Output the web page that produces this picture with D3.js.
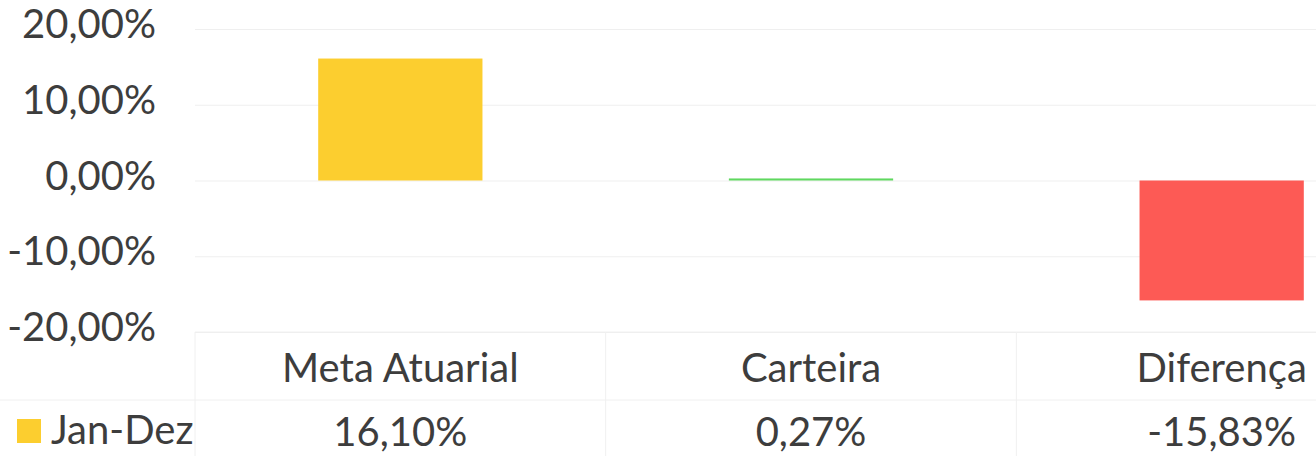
<!DOCTYPE html>
<html><head>
<meta charset="utf-8">
<script src="https://cdn.jsdelivr.net/npm/d3@7"></script>
<style>
  body { margin: 0; background: #fff; }
  text { font-family: Lato, "Open Sans", sans-serif; fill: #3d3d3d; }
  .gridlines line { stroke: #efefef; }
  .gridlines .domain { stroke: none; }
</style>
</head>
<body>
<svg id="chart" width="1316" height="456"></svg>
<script>
  // data
  const categories = ["Meta Atuarial", "Carteira", "Diferença"];
  const values = [16.10, 0.27, -15.83];
  const barColors = ["#fcce2f", "#5fd85f", "#fd5a55"];
  const seriesName = "Jan-Dez";
  const yTicks = [20, 10, 0, -10, -20];

  const svg = d3.select("svg#chart");
  const width = +svg.attr("width");

  // pt-BR style numbers: 16,10%  (plain hyphen for the minus sign)
  const br = d3.formatLocale({ decimal: ",", thousands: ".", grouping: [3], currency: ["R$", ""], minus: "-" });
  const pct = v => br.format(".2f")(v) + "%";

  // plot area (third category runs off the right edge, like the original)
  const plotLeft = 195;
  const x = d3.scaleBand().domain(categories).range([plotLeft, plotLeft + 1232])
      .paddingInner(0.6).paddingOuter(0.3);
  const y = d3.scaleLinear().domain([-20, 20]).range([332, 29]);

  // gridlines
  svg.append("g")
      .attr("class", "gridlines")
      .attr("transform", "translate(" + plotLeft + ",0)")
      .call(d3.axisLeft(y).tickValues(yTicks).tickFormat("").tickSize(-(width - plotLeft)));

  // y labels
  svg.append("g").selectAll("text")
    .data(yTicks)
    .join("text")
      .attr("x", 156)
      .attr("y", d => y(d) - 1)
      .attr("text-anchor", "end")
      .attr("dominant-baseline", "middle")
      .attr("font-size", 40)
      .text(d => pct(d));

  // bars
  svg.append("g").selectAll("rect")
    .data(values)
    .join("rect")
      .attr("x", (d, i) => x(categories[i]))
      .attr("width", x.bandwidth())
      .attr("y", d => y(Math.max(0, d)))
      .attr("height", d => Math.abs(y(d) - y(0)))
      .attr("fill", (d, i) => barColors[i]);

  // data table
  const table = svg.append("g").attr("stroke", "#f0f0f0").attr("stroke-width", 1);
  table.append("line").attr("x1", plotLeft).attr("x2", width).attr("y1", y(-20)).attr("y2", y(-20));
  table.append("line").attr("x1", 0).attr("x2", width).attr("y1", 400).attr("y2", 400);
  categories.forEach(c => {
    const edge = x(c) - x.step() * x.paddingInner() / 2;
    table.append("line").attr("x1", edge).attr("x2", edge).attr("y1", y(-20)).attr("y2", 456);
  });

  svg.append("g").selectAll("text")
    .data(categories)
    .join("text")
      .attr("x", d => x(d) + x.bandwidth() / 2)
      .attr("y", 382)
      .attr("text-anchor", "middle")
      .attr("font-size", 40)
      .text(d => d);

  svg.append("g").selectAll("text")
    .data(values)
    .join("text")
      .attr("x", (d, i) => x(categories[i]) + x.bandwidth() / 2)
      .attr("y", 446)
      .attr("text-anchor", "middle")
      .attr("font-size", 40)
      .text(d => pct(d));

  // legend key in the table
  svg.append("rect")
      .attr("x", 17).attr("y", 419).attr("width", 24).attr("height", 24)
      .attr("fill", barColors[0]);
  svg.append("text")
      .attr("x", 51).attr("y", 444)
      .attr("font-size", 40)
      .text(seriesName);
</script>
</body></html>
